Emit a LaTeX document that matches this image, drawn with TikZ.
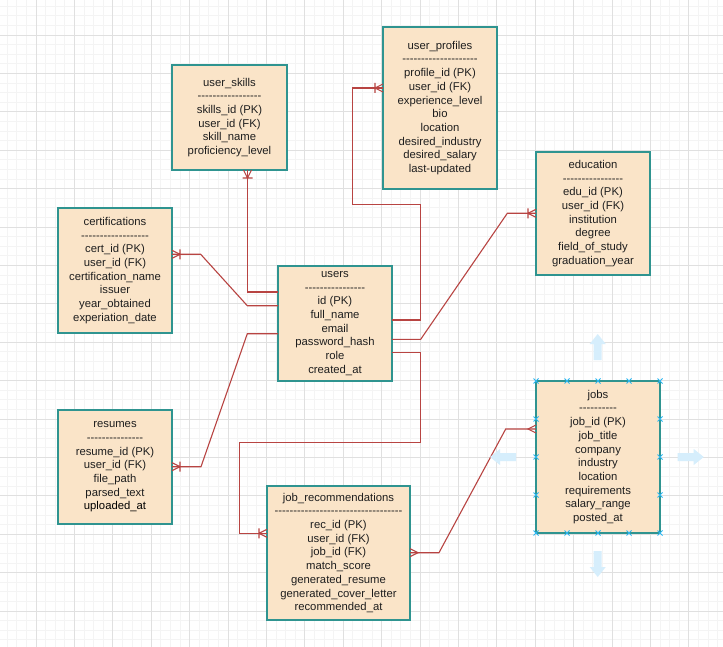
\documentclass[tikz,border=0pt]{standalone}
\usepackage{fontspec}
\newfontfamily\erfont{Liberation Sans}
\usetikzlibrary{calc}

\definecolor{peach}{HTML}{FAE4C8}
\definecolor{tealline}{HTML}{2F9490}
\definecolor{relred}{HTML}{B84442}
\definecolor{gridminor}{HTML}{F4F4F4}
\definecolor{gridmajor}{HTML}{E0E0E0}
\definecolor{selblue}{HTML}{29B6F2}
\definecolor{hoverblue}{HTML}{D6EEFC}
\definecolor{ink}{HTML}{1E1E1E}

\tikzset{
  ertable/.style={draw=tealline, fill=peach, line width=1.4pt, inner sep=0pt, outer sep=0pt, align=center, text=ink, font=\erfont\fontsize{11.3}{13.7}\selectfont},
  relline/.style={draw=relred, line width=1.1pt},
  onemany/.pic={\draw[relline] (0,-4) -- (-8,0) -- (0,4) (-8,-5) -- (-8,5);},
  many/.pic={\draw[relline] (0,-4) -- (-8,0) -- (0,4);},
  handle/.pic={\draw[selblue, line width=1pt] (-2.5,-2.5) -- (2.5,2.5) (-2.5,2.5) -- (2.5,-2.5);},
  hoverarrow/.pic={\fill[hoverblue] (0,-4) -- (16,-4) -- (16,-8) -- (26,0) -- (16,8) -- (16,4) -- (0,4) -- cycle;},
}

\begin{document}
\begin{tikzpicture}[x=1pt, y=-1pt]
  \useasboundingbox[fill=white] (0,0) rectangle (723,647);
  % background grid
  \foreach \i in {0,...,76} \draw[gridminor, line width=0.7pt] ({-2.4+9.6*\i},0) -- ++(0,647);
  \foreach \i in {0,...,68} \draw[gridminor, line width=0.7pt] (0,{-3.4+9.6*\i}) -- ++(723,0);
  \foreach \i in {0,...,19} \draw[gridmajor, line width=0.8pt] ({-2.4+38.4*\i},0) -- ++(0,647);
  \foreach \i in {0,...,17} \draw[gridmajor, line width=0.8pt] (0,{-3.4+38.4*\i}) -- ++(723,0);

  \node[ertable, minimum width=115pt, minimum height=105pt] (skills) at (229.5,117.5) {user\_skills\\-----------------\\skills\_id (PK)\\user\_id (FK)\\skill\_name\\proficiency\_level};
  \node[ertable, minimum width=114pt, minimum height=162pt] (profiles) at (440,108) {user\_profiles\\--------------------\\profile\_id (PK)\\user\_id (FK)\\experience\_level\\bio\\location\\desired\_industry\\desired\_salary\\last-updated};
  \node[ertable, minimum width=114pt, minimum height=125pt] (certs) at (115,270.5) {certifications\\------------------\\cert\_id (PK)\\user\_id (FK)\\certification\_name\\issuer\\year\_obtained\\experiation\_date};
  \node[ertable, minimum width=114pt, minimum height=115pt] (users) at (335,323.5) {users\\----------------\\id (PK)\\full\_name\\email\\password\_hash\\role\\created\_at};
  \node[ertable, minimum width=114pt, minimum height=123pt] (edu) at (593,213.5) {education\\----------------\\edu\_id (PK)\\user\_id (FK)\\institution\\degree\\field\_of\_study\\graduation\_year};
  \node[ertable, minimum width=114pt, minimum height=114pt] (resumes) at (115,467) {resumes\\---------------\\resume\_id (PK)\\user\_id (FK)\\file\_path\\parsed\_text\\\textcolor{black}{uploaded\_at}};
  \node[ertable, minimum width=143pt, minimum height=134pt] (recs) at (338.5,553) {job\_recommendations\\----------------------------------\\rec\_id (PK)\\user\_id (FK)\\job\_id (FK)\\match\_score\\generated\_resume\\generated\_cover\_letter\\recommended\_at};
  \node[ertable, minimum width=124pt, minimum height=152pt] (jobs) at (598,457) {jobs\\----------\\job\_id (PK)\\job\_title\\company\\industry\\location\\requirements\\salary\_range\\posted\_at};

  % connection points
  \coordinate (skB) at ($(skills.south west)+(75.5,0)$);
  \coordinate (usL1) at ($(users.north west)+(0,26)$);
  \coordinate (usL2) at ($(users.north west)+(0,39.7)$);
  \coordinate (usL3) at ($(users.north west)+(0,67.7)$);
  \coordinate (usR1) at ($(users.north east)+(0,54)$);
  \coordinate (usR2) at ($(users.north east)+(0,73.3)$);
  \coordinate (usR3) at ($(users.north east)+(0,86.3)$);
  \coordinate (ceR) at ($(certs.north east)+(0,46.3)$);
  \coordinate (reR) at ($(resumes.north east)+(0,56.7)$);
  \coordinate (prL) at ($(profiles.north west)+(0,61)$);
  \coordinate (edL) at ($(edu.north west)+(0,61.3)$);
  \coordinate (rcL) at ($(recs.north west)+(0,47.3)$);
  \coordinate (rcR) at ($(recs.north east)+(0,66.7)$);
  \coordinate (jbL) at ($(jobs.north west)+(0,48)$);

  \draw[relline] (skB) |- (usL1);
  \draw[relline] (ceR) -- ++(28.7,0) -- ++(46.6,51.4) -- (usL2);
  \draw[relline] (usL3) -- ++(-30.7,0) -- ++(-46.3,133) -- (reR);
  \draw[relline] (usR1) -- ++(28.7,0) -- ++(0,-115.7) -- ++(-68.4,0) |- (prL);
  \draw[relline] (usR2) -- ++(28.7,0) -- ++(86.6,-126) -- (edL);
  \draw[relline] (usR3) -- ++(28.7,0) -- ++(0,90.4) -- ++(-181.4,0) |- (rcL);
  \draw[relline] (rcR) -- ++(29,0) -- ++(66.7,-123.7) -- (jbL);

  \pic[rotate=90] at (skB) {onemany};
  \pic[rotate=180] at (ceR) {onemany};
  \pic[rotate=180] at (reR) {onemany};
  \pic at (prL) {onemany};
  \pic at (edL) {onemany};
  \pic at (rcL) {onemany};
  \pic[rotate=180] at (rcR) {many};
  \pic at (jbL) {many};

  % selection handles and hover arrows on jobs
  \foreach \x in {536,567,598,629,660} {
    \pic at (\x,381) {handle};
    \pic at (\x,533) {handle};
  }
  \foreach \y in {419,457,495} {
    \pic at (536,\y) {handle};
    \pic at (660,\y) {handle};
  }
  \pic[rotate=90] at (597.7,360) {hoverarrow};
  \pic[rotate=-90] at (597.7,551) {hoverarrow};
  \pic[rotate=180] at (516,457) {hoverarrow};
  \pic at (677.7,457) {hoverarrow};
\end{tikzpicture}
\end{document}
